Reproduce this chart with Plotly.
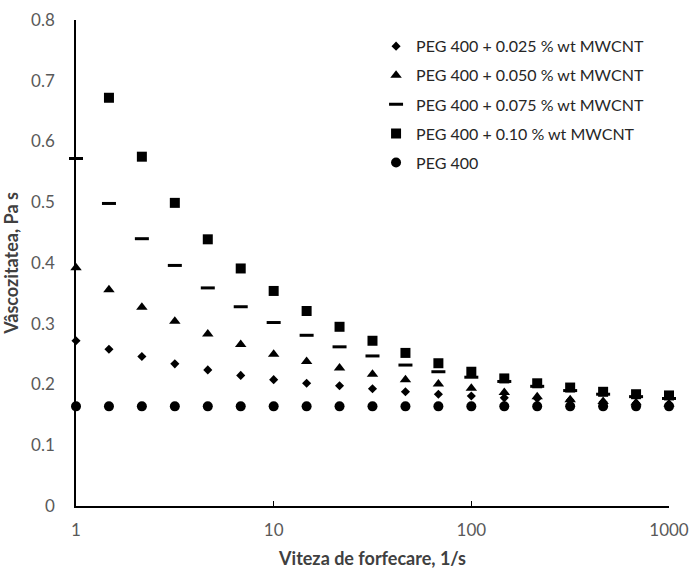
import plotly.graph_objects as go

shear = [1, 1.468, 2.154, 3.162, 4.642, 6.813, 10, 14.68, 21.54, 31.62, 46.42,
         68.13, 100, 146.8, 215.4, 316.2, 464.2, 681.3, 1000]

v_025 = [0.272, 0.258, 0.246, 0.234, 0.224, 0.215, 0.208, 0.202, 0.198, 0.193,
         0.188, 0.184, 0.181, 0.178, 0.177, 0.174, 0.171, 0.169, 0.168]
v_050 = [0.392, 0.356, 0.327, 0.304, 0.283, 0.266, 0.250, 0.238, 0.227, 0.217,
         0.208, 0.201, 0.194, 0.187, 0.180, 0.175, 0.172, 0.170, 0.168]
v_075 = [0.572, 0.498, 0.440, 0.396, 0.359, 0.328, 0.302, 0.281, 0.262, 0.247,
         0.232, 0.221, 0.212, 0.205, 0.197, 0.190, 0.184, 0.180, 0.177]
v_010 = [None, 0.672, 0.575, 0.499, 0.439, 0.391, 0.354, 0.321, 0.295, 0.272,
         0.252, 0.235, 0.221, 0.210, 0.202, 0.195, 0.188, 0.184, 0.182]
v_peg = [0.164] * 19

names = ["PEG 400 + 0.025 % wt MWCNT", "PEG 400 + 0.050 % wt MWCNT",
         "PEG 400 + 0.075 % wt MWCNT", "PEG 400 + 0.10 % wt MWCNT", "PEG 400"]
series = [v_025, v_050, v_075, v_010, v_peg]
symbols = ["diamond", "triangle-up", "line-ew", "square", "circle"]
sizes = [7, 10, 10, 10, 10]

fig = go.Figure()
for i, (nm, ys, sym, sz) in enumerate(zip(names, series, symbols, sizes)):
    lw = 3 if sym == "line-ew" else 0
    fig.add_trace(go.Scatter(
        x=shear, y=ys, mode="markers", name=nm, legendgroup=str(i),
        cliponaxis=False,
        marker=dict(symbol=sym, size=sz, color="black",
                    line=dict(color="black", width=lw)),
    ))

font = "Lato, 'Open Sans', sans-serif"
fig.update_layout(
    width=690, height=569,
    margin=dict(l=76, r=21, t=20, b=63),
    paper_bgcolor="white", plot_bgcolor="white",
    font=dict(family=font, size=17, color="#595959"),
    showlegend=True,
    legend=dict(x=0.506, y=0.981, xanchor="left", yanchor="top",
                font=dict(size=16, color="#262626"), tracegroupgap=5.3,
                bgcolor="rgba(0,0,0,0)", itemwidth=30),
    xaxis=dict(type="log", range=[0, 3], showgrid=False, zeroline=False,
               showline=True, linecolor="black", linewidth=1.5,
               ticks="inside", ticklen=5, tickcolor="black",
               tickvals=[1, 10, 100, 1000], ticktext=["1", "10", "100", "1000"],
               ticklabelstandoff=8, layer="below traces", automargin=False,
               title=dict(text="<b>Viteza de forfecare, 1/s</b>",
                          font=dict(size=18, color="#404040"))),
    yaxis=dict(range=[0, 0.8], showgrid=False, zeroline=False,
               showline=True, linecolor="black", linewidth=1.5,
               ticks="", tickvals=[0, 0.1, 0.2, 0.3, 0.4, 0.5, 0.6, 0.7, 0.8],
               ticktext=["0", "0.1", "0.2", "0.3", "0.4", "0.5", "0.6", "0.7", "0.8"],
               ticklabelstandoff=16, layer="below traces", automargin=False,
               title=dict(text="<b>Vâscozitatea, Pa s</b>",
                          font=dict(size=18, color="#404040"))),
)

fig.write_html("out.html")
